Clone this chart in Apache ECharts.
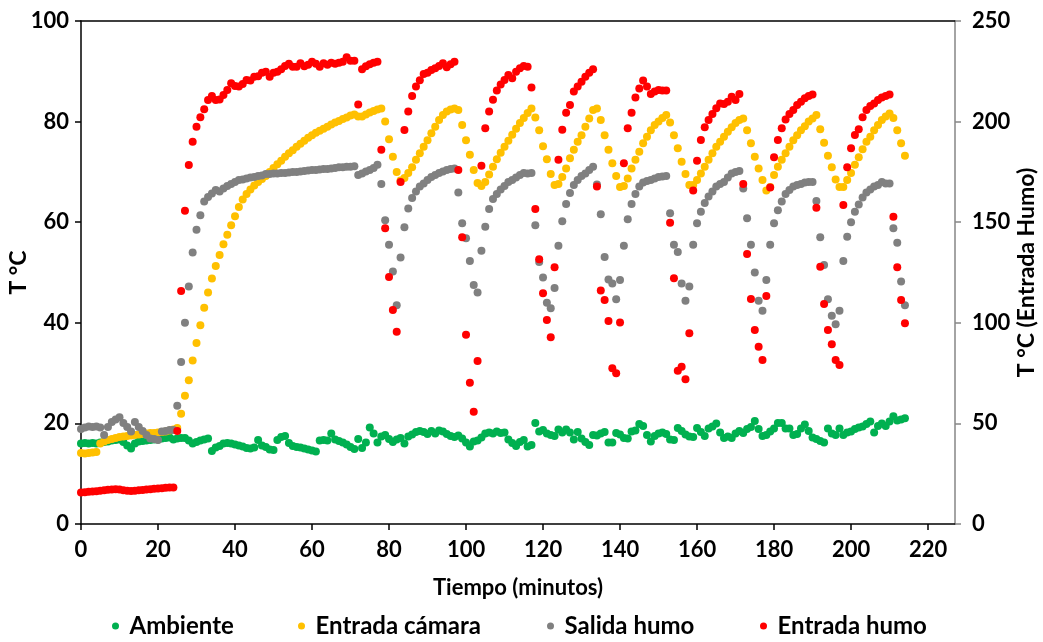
<!DOCTYPE html>
<html>
<head>
<meta charset="utf-8">
<script src="https://cdn.jsdelivr.net/npm/echarts@6/dist/echarts.min.js"></script>
<style>html,body{margin:0;padding:0;background:#fff}#c{width:1043px;height:642px}</style>
</head>
<body>
<div id="c"></div>
<script>
// Values read per minute (t = 0 … 214)
const ambiente = [
16.0,16.1,16.0,16.1,16.0,16.2,16.3,16.4,16.6,16.7,
16.8,16.3,15.6,15.0,16.0,16.4,16.5,16.6,16.7,16.8,
16.8,17.0,17.1,17.2,16.8,17.0,17.1,17.1,16.6,16.0,
16.3,16.6,16.8,17.0,14.5,15.2,15.5,16.0,16.1,16.0,
15.8,15.6,15.4,15.1,15.0,15.2,16.7,15.6,15.3,14.8,
14.7,16.7,17.3,17.5,16.1,15.5,15.3,15.2,15.0,14.8,
14.6,14.4,16.6,16.7,16.6,18.0,16.8,16.5,16.2,15.8,
15.3,14.9,16.9,15.1,16.2,19.2,18.0,16.2,17.4,17.7,
16.9,16.3,16.8,17.1,16.0,17.4,17.8,18.3,18.5,18.3,
17.9,18.5,18.0,18.6,18.4,17.9,17.5,17.3,17.6,17.0,
16.2,15.4,16.4,16.6,17.2,18.0,18.2,18.0,18.4,18.1,
18.2,16.8,16.1,15.5,16.3,16.7,15.4,15.7,20.1,18.4,
18.7,18.0,17.7,17.5,18.8,18.2,18.8,18.2,16.8,18.3,
17.0,16.3,15.7,17.7,17.6,18.0,18.3,16.2,16.2,18.1,
17.8,17.1,17.0,18.4,18.6,19.9,19.5,17.7,16.4,17.5,
18.0,18.2,17.9,16.8,16.7,19.1,18.5,17.8,17.4,17.3,
19.1,18.3,17.5,19.0,19.4,20.0,18.2,17.1,17.4,17.1,
18.0,18.5,18.1,18.9,19.3,20.5,18.9,17.5,17.7,18.4,
19.0,20.1,20.1,19.0,19.0,17.7,17.9,19.0,19.8,18.5,
17.2,16.9,16.5,16.2,19.0,18.0,17.7,19.0,17.7,18.2,
18.4,18.9,19.2,19.4,19.9,20.4,18.2,19.5,20.0,19.5,
20.4,21.4,20.6,20.8,21.0
];
const entradaCamara = [
14.1,14.0,14.1,14.2,14.3,16.0,16.4,16.7,16.9,17.1,
17.3,17.4,17.5,17.6,17.7,17.8,17.9,18.0,18.1,18.1,
18.2,18.3,18.4,18.6,18.8,19.1,21.9,25.5,28.6,32.5,
36.0,39.5,43.0,46.0,48.8,51.3,53.5,55.6,57.5,59.4,
61.2,63.0,64.5,65.6,66.5,67.3,68.0,68.6,69.2,70.0,
70.8,71.5,72.2,73.0,73.7,74.3,75.0,75.6,76.2,76.8,
77.3,77.8,78.2,78.6,79.0,79.4,79.8,80.1,80.5,80.8,
81.2,81.4,81.0,81.0,81.4,81.8,82.1,82.4,82.6,80.0,
76.5,73.0,70.0,68.3,68.8,69.8,70.9,72.4,73.7,75.0,
76.3,77.7,79.0,80.3,81.3,82.0,82.4,82.6,82.3,79.3,
76.3,73.4,70.4,67.8,67.2,68.0,69.5,71.0,72.5,73.8,
75.0,76.2,77.4,78.6,79.7,80.7,81.7,82.6,80.8,78.3,
75.1,72.5,69.6,67.4,67.6,69.0,70.7,72.7,74.4,76.0,
77.3,79.0,80.6,82.3,82.6,80.3,77.3,74.4,71.7,69.2,
67.0,67.2,68.7,70.7,72.4,74.0,75.7,77.0,78.3,79.3,
80.0,80.7,81.3,79.8,77.3,74.7,72.0,69.6,67.4,67.4,
68.4,69.7,71.0,72.4,73.7,75.0,76.0,77.0,78.0,78.9,
79.7,80.3,80.6,78.3,75.7,73.0,70.7,68.4,66.3,67.0,
69.4,71.0,72.4,73.7,75.0,76.3,77.3,78.3,79.1,80.0,
80.6,81.3,78.5,75.8,73.2,70.9,68.5,67.0,67.0,68.4,
69.8,71.4,72.9,74.5,76.0,77.0,78.3,79.3,80.3,81.0,
81.6,80.7,78.3,75.7,73.2
];
const salidaHumo = [
18.9,19.2,19.4,19.3,19.4,19.2,17.7,19.3,20.3,20.8,
21.2,20.1,19.3,18.4,20.3,19.3,18.5,17.7,17.0,16.9,
16.7,18.4,18.5,18.7,18.7,23.5,32.2,40.0,47.2,54.0,
58.5,61.4,64.1,65.0,65.7,66.4,66.1,66.7,67.2,67.6,
68.0,68.4,68.5,68.7,68.9,69.0,69.2,69.3,69.6,69.6,
69.7,69.7,69.8,69.8,69.9,70.0,70.0,70.1,70.2,70.3,
70.4,70.4,70.5,70.6,70.6,70.7,70.8,70.9,70.9,71.0,
71.0,71.1,69.4,69.7,70.1,70.4,70.8,71.4,67.6,60.4,
55.5,50.2,43.5,53.0,59.0,62.7,64.8,66.1,67.1,67.7,
68.4,69.0,69.4,69.8,70.1,70.4,70.6,70.7,65.9,59.8,
56.8,52.3,47.5,46.0,54.3,59.1,62.6,64.6,65.6,66.5,
67.2,68.0,68.4,68.9,69.4,69.8,69.7,69.8,59.4,52.1,
49.0,44.0,42.9,46.9,55.3,60.2,63.6,65.8,67.4,68.4,
69.2,69.7,70.4,71.0,67.5,61.6,53.1,48.6,47.8,44.7,
48.5,55.3,60.6,63.6,65.6,67.1,67.9,68.2,68.4,68.7,
69.0,69.1,69.2,61.8,55.5,54.1,47.8,44.4,47.2,55.5,
59.8,62.1,63.8,65.1,66.1,67.1,67.6,68.0,68.9,69.7,
70.0,70.2,66.7,60.8,55.5,50.0,44.4,42.4,48.5,55.5,
59.8,62.4,64.1,65.6,66.4,67.1,67.4,67.6,67.9,68.0,
68.0,64.2,57.0,51.5,44.7,41.4,39.7,42.4,52.3,57.1,
60.0,62.1,63.5,64.9,65.9,66.5,67.1,67.4,68.0,67.7,
67.7,58.8,55.9,48.2,43.5
];
// Entrada humo is plotted on the right axis (0–250)
const entradaHumo = [
15.6,15.8,16.0,16.1,16.3,16.5,16.8,17.0,17.2,17.3,
17.1,16.8,16.5,16.4,16.5,16.8,16.9,17.1,17.3,17.5,
17.6,17.8,18.0,18.2,18.1,46.2,115.8,155.7,178.4,190.0,
197.5,202.1,206.1,210.7,212.7,210.7,211.0,213.2,215.7,219.0,
217.7,217.4,218.7,220.7,220.4,222.3,222.5,224.3,224.8,222.3,
224.3,224.8,226.0,227.6,228.7,227.2,227.3,229.0,227.5,228.3,
229.8,228.7,227.3,229.0,228.3,229.3,228.7,229.2,229.8,232.0,
230.2,230.3,208.5,226.0,227.5,228.5,229.3,229.8,186.0,147.0,
122.8,106.3,95.6,170.0,195.8,205.0,212.7,217.4,220.6,223.6,
224.3,225.6,226.5,227.6,229.0,227.0,228.5,229.8,176.0,142.5,
94.0,70.2,55.8,81.0,178.0,196.7,205.0,210.8,215.5,218.5,
220.7,223.2,221.5,224.8,226.5,227.6,227.3,217.0,156.5,131.6,
114.7,101.4,92.8,127.6,181.0,196.0,204.4,208.2,214.9,217.4,
219.8,222.3,224.3,226.0,167.7,116.0,111.3,100.9,77.4,74.9,
100.2,179.3,196.7,204.4,212.0,216.5,220.4,217.4,213.7,214.9,
215.7,215.5,215.4,149.7,122.1,76.2,78.2,71.9,94.8,165.7,
180.6,190.8,197.2,200.8,203.8,206.6,209.0,208.7,209.9,212.4,
210.7,213.7,169.0,134.2,111.8,96.4,88.1,81.5,113.3,167.2,
182.3,190.8,196.7,201.1,203.8,205.8,208.2,209.9,211.6,212.7,
213.5,157.2,127.9,109.3,96.4,89.3,81.5,79.0,158.5,177.3,
186.7,193.3,196.2,202.1,205.8,207.8,209.0,210.7,212.0,212.7,
213.5,152.7,127.6,111.3,99.8
];
const ticksX = [0,20,40,60,80,100,120,140,160,180,200,220];
const nombres = ['Ambiente','Entrada cámara','Salida humo','Entrada humo'];
const colores = ['#00B050','#FFC000','#808080','#FF0000'];

const minutos = ambiente.map((_, i) => i);
const pares = vals => vals.map((v, i) => [minutos[i], v]);
const valores = [ambiente, entradaCamara, salidaHumo, entradaHumo];

const FONT = 'Lato';
const lbl = {fontFamily: FONT, fontSize: 22, fontWeight: 'bold', color: '#000'};
const lblName = {fontFamily: FONT, fontSize: 23, fontWeight: 'bold', color: '#000'};
const legLeft = [112, 298, 547, 760];

const chart = echarts.init(document.getElementById('c'), null, {renderer: 'canvas'});
chart.setOption({
  animation: false,
  backgroundColor: '#fff',
  textStyle: {fontFamily: FONT},
  grid: {left: 81, right: 88, top: 21, bottom: 118, containLabel: false, outerBoundsMode: 'none'},
  xAxis: [{
    type: 'value', min: 0, max: 227, interval: 20,
    name: 'Tiempo (minutos)', nameLocation: 'middle', nameGap: 53,
    nameTextStyle: Object.assign({}, lbl, {fontSize: 22}),
    axisLine: {onZero: false, lineStyle: {color: '#000', width: 1.5}},
    axisTick: {show: true, length: 6, customValues: ticksX, lineStyle: {color: '#000', width: 1.5}},
    axisLabel: Object.assign({}, lbl, {margin: 15, customValues: ticksX}),
    splitLine: {show: false}
  }, {
    type: 'value', position: 'top', min: 0, max: 227,
    axisLine: {show: true, onZero: false, lineStyle: {color: '#000', width: 1.5}},
    axisTick: {show: false}, axisLabel: {show: false}, splitLine: {show: false}
  }],
  yAxis: [{
    type: 'value', min: 0, max: 100, interval: 20, position: 'left',
    name: 'T °C', nameLocation: 'middle', nameGap: 51, nameRotate: 90, nameMoveOverlap: false,
    nameTextStyle: lblName,
    axisLine: {show: true, onZero: false, lineStyle: {color: '#000', width: 1.5}},
    axisTick: {show: true, length: 6, lineStyle: {color: '#000', width: 1.5}},
    axisLabel: Object.assign({}, lbl, {margin: 12}),
    splitLine: {show: false}
  }, {
    type: 'value', min: 0, max: 250, interval: 50, position: 'right',
    name: 'T °C (Entrada Humo)', nameLocation: 'middle', nameGap: 60, nameRotate: 90, nameMoveOverlap: false,
    nameTextStyle: lblName,
    axisLine: {show: true, onZero: false, lineStyle: {color: '#868686', width: 1.5}},
    axisTick: {show: true, length: 6, lineStyle: {color: '#868686', width: 1.5}},
    axisLabel: Object.assign({}, lbl, {margin: 17}),
    splitLine: {show: false}
  }],
  legend: nombres.map((n, i) => ({
    data: [n], left: legLeft[i], top: 614, icon: 'circle',
    itemWidth: 18, itemHeight: 7, padding: 0,
    textStyle: Object.assign({}, lblName, {fontSize: 24})
  })),
  series: nombres.map((n, i) => ({
    name: n, type: 'scatter', yAxisIndex: i === 3 ? 1 : 0,
    data: pares(valores[i]), symbol: 'circle', symbolSize: 8,
    itemStyle: {color: colores[i], opacity: 1}
  }))
});
</script>
</body>
</html>
